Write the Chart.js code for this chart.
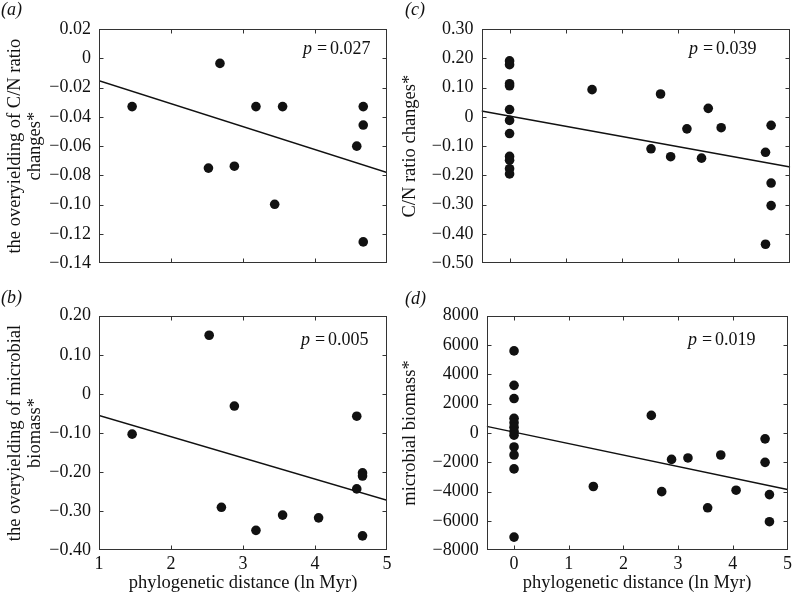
<!DOCTYPE html>
<html><head><meta charset="utf-8">
<script src="https://cdn.jsdelivr.net/npm/chart.js@4/dist/chart.umd.min.js"></script>
<style>
html,body{margin:0;padding:0;background:#fff;}
#wrap{position:relative;width:795px;height:599px;overflow:hidden;}
#wrap canvas{position:absolute;left:0;top:0;}
</style></head>
<body><div id="wrap">
<canvas id="pa" width="795" height="599"></canvas>
<canvas id="pb" width="795" height="599"></canvas>
<canvas id="pc" width="795" height="599"></canvas>
<canvas id="pd" width="795" height="599"></canvas>
</div>
<script>
const FAMILY = '"Liberation Serif","Times New Roman",serif';

// ---- Panel (a): overyielding of C/N ratio changes ----
const aDistance = [1.46, 2.52, 2.68, 2.88, 3.18, 3.44, 3.55, 4.58, 4.67, 4.67, 4.67];
const aOverCN   = [-0.033, -0.075, -0.0035, -0.0737, -0.033, -0.0997, -0.033, -0.060, -0.033, -0.0456, -0.1254];
const aFitX = [1, 5];
const aFitY = [-0.0153, -0.078];
const aYTicks = [0.02, 0, -0.02, -0.04, -0.06, -0.08, -0.10, -0.12, -0.14];

// ---- Panel (b): overyielding of microbial biomass ----
const bDistance = [1.46, 2.53, 2.70, 2.88, 3.18, 3.55, 4.05, 4.58, 4.58, 4.66, 4.66, 4.66];
const bOverMB   = [-0.103, 0.150, -0.290, -0.031, -0.349, -0.310, -0.317, -0.057, -0.243, -0.202, -0.210, -0.363];
const bFitX = [1, 5];
const bFitY = [-0.055, -0.272];
const bYTicks = [0.20, 0.10, 0, -0.10, -0.20, -0.30, -0.40];

const abXTicks = [1, 2, 3, 4, 5];

// ---- Panel (c): C/N ratio changes ----
const cDistance = [0, 0, 0, 0, 0, 0, 0, 0, 0, 0, 0,
                   1.47, 2.52, 2.69, 2.87, 3.16, 3.42, 3.54, 3.77, 4.56, 4.56, 4.66, 4.66, 4.66];
const cCN       = [0.191, 0.178, 0.113, 0.106, 0.025, -0.012, -0.057, -0.135, -0.148, -0.177, -0.195,
                   0.093, -0.109, 0.078, -0.136, -0.041, -0.141, 0.029, -0.037, -0.121, -0.435, -0.029, -0.226, -0.303];
const cFitX = [-0.5, 5];
const cFitY = [0.020, -0.171];
const cYTicks = [0.30, 0.20, 0.10, 0, -0.10, -0.20, -0.30, -0.40, -0.50];

// ---- Panel (d): microbial biomass ----
const dDistance = [0, 0, 0, 0, 0, 0, 0, 0, 0, 0, 0, 0,
                   1.45, 2.51, 2.70, 2.88, 3.18, 3.54, 3.78, 4.06, 4.59, 4.59, 4.67, 4.67];
const dMB       = [5600, 3250, 2350, 1000, 700, 400, 100, -150, -950, -1500, -2450, -7100,
                   -3650, 1200, -4000, -1800, -1700, -5100, -1500, -3900, -400, -2000, -4200, -6050];
const dFitX = [-0.5, 5];
const dFitY = [450, -3850];
const dYTicks = [8000, 6000, 4000, 2000, 0, -2000, -4000, -6000, -8000];

const cdXTicks = [0, 1, 2, 3, 4, 5];

const xTitleText = 'phylogenetic distance (ln Myr)';

function pts(xs, ys) { return xs.map((x, i) => ({x: x, y: ys[i]})); }
function fmt(dec) {
  return v => {
    if (Math.abs(v) < 1e-9) return '0';
    return (v < 0 ? '\u2212' : '') + Math.abs(v).toFixed(dec);
  };
}

function panel(cfg) {
  const W = 795, H = 599;
  const showX = !!cfg.xTitle;
  const bottomEdge = 593;
  const Wy = cfg.area.left - cfg.titleLeft;
  const Hx = showX ? bottomEdge - cfg.area.bottom : 10;
  const padBottom = showX ? H - bottomEdge : H - cfg.area.bottom - 10;

  const extras = {
    id: 'extras_' + cfg.id,
    afterDraw(chart) {
      const ctx = chart.ctx, a = chart.chartArea, xs = chart.scales.x, ys = chart.scales.y;
      ctx.save();
      ctx.strokeStyle = '#333';
      ctx.lineWidth = 1;
      const L = Math.round(a.left) + 0.5, R = Math.round(a.right) - 0.5;
      const T = Math.round(a.top) + 0.5, B = Math.round(a.bottom) - 0.5;
      ctx.strokeRect(L, T, R - L, B - T);
      const tk = 4;
      ctx.beginPath();
      cfg.yTicks.forEach(v => {
        const p = Math.round(ys.getPixelForValue(v)) + 0.5;
        if (p <= T + 1 || p >= B - 1) return;
        ctx.moveTo(L, p); ctx.lineTo(L + tk, p);
        ctx.moveTo(R, p); ctx.lineTo(R - tk, p);
      });
      cfg.xTicks.forEach(v => {
        const p = Math.round(xs.getPixelForValue(v)) + 0.5;
        if (p <= L + 1 || p >= R - 1) return;
        ctx.moveTo(p, B); ctx.lineTo(p, B - tk);
        ctx.moveTo(p, T); ctx.lineTo(p, T + tk);
      });
      ctx.stroke();

      ctx.fillStyle = '#111';
      ctx.textBaseline = 'alphabetic';
      ctx.textAlign = 'left';
      ctx.font = 'italic 18px ' + FAMILY;
      ctx.fillText('(' + cfg.letter + ')', cfg.labelPos[0], cfg.labelPos[1]);
      const px = cfg.pPos[0], py = cfg.pPos[1];
      ctx.font = 'italic 18px ' + FAMILY;
      ctx.fillText('p', px, py);
      ctx.font = '18px ' + FAMILY;
      ctx.fillText('=', px + 14, py);
      ctx.fillText(cfg.pValue, px + 27, py);
      ctx.restore();
    }
  };

  new Chart(document.getElementById(cfg.id), {
    type: 'scatter',
    data: {
      datasets: [
        {type: 'scatter', data: pts(cfg.xs, cfg.ys), pointRadius: 4.8, pointHoverRadius: 4.8,
         backgroundColor: '#111', borderWidth: 0, order: 1},
        {type: 'line', data: pts(cfg.fitX, cfg.fitY), borderColor: '#111', borderWidth: 1.4,
         pointRadius: 0, fill: false, tension: 0, order: 2}
      ]
    },
    options: {
      responsive: false, animation: false, events: [],
      layout: {padding: {left: cfg.titleLeft, top: cfg.area.top, right: W - cfg.area.right, bottom: padBottom}},
      plugins: {legend: {display: false}, tooltip: {enabled: false}},
      scales: {
        x: {
          type: 'linear', position: 'bottom', min: cfg.xMin, max: cfg.xMax,
          grid: {display: false, drawTicks: false, tickLength: 0}, border: {display: false},
          afterBuildTicks: s => { s.ticks = cfg.xTicks.map(v => ({value: v})); },
          afterFit: s => { s.height = Hx; },
          ticks: {display: showX, padding: 3, color: '#111', maxRotation: 0, autoSkip: false,
                  font: {family: FAMILY, size: 18}, callback: v => String(v)},
          title: {display: showX, text: cfg.xTitle || '', color: '#111', padding: 0,
                  font: {family: FAMILY, size: 18.5, lineHeight: '20px'}}
        },
        y: {
          type: 'linear', position: 'left', min: cfg.yMin, max: cfg.yMax,
          grid: {display: false, drawTicks: false, tickLength: 0}, border: {display: false},
          afterBuildTicks: s => { s.ticks = cfg.yTicks.map(v => ({value: v})); },
          afterFit: s => { s.width = Wy; },
          ticks: {padding: 8, color: '#111', autoSkip: false,
                  font: {family: FAMILY, size: 18}, callback: cfg.yFmt},
          title: {display: true, text: cfg.yTitle, color: '#111', padding: 0,
                  font: {family: FAMILY, size: 18.5, lineHeight: '20px'}}
        }
      }
    },
    plugins: [extras]
  });
}

panel({id: 'pa', letter: 'a', xs: aDistance, ys: aOverCN, fitX: aFitX, fitY: aFitY,
  xMin: 1, xMax: 5, xTicks: abXTicks, yMin: -0.14, yMax: 0.02, yTicks: aYTicks, yFmt: fmt(2),
  yTitle: ['the overyielding of C/N ratio', 'changes*'], xTitle: null,
  area: {left: 99, top: 29, right: 387, bottom: 263.3}, titleLeft: 5,
  labelPos: [1, 15], pPos: [303, 54], pValue: '0.027'});

panel({id: 'pb', letter: 'b', xs: bDistance, ys: bOverMB, fitX: bFitX, fitY: bFitY,
  xMin: 1, xMax: 5, xTicks: abXTicks, yMin: -0.40, yMax: 0.20, yTicks: bYTicks, yFmt: fmt(2),
  yTitle: ['the overyielding of microbial', 'biomass*'], xTitle: xTitleText,
  area: {left: 99, top: 315.7, right: 387, bottom: 550.3}, titleLeft: 5,
  labelPos: [1, 303], pPos: [301, 345], pValue: '0.005'});

panel({id: 'pc', letter: 'c', xs: cDistance, ys: cCN, fitX: cFitX, fitY: cFitY,
  xMin: -0.5, xMax: 5, xTicks: cdXTicks, yMin: -0.50, yMax: 0.30, yTicks: cYTicks, yFmt: fmt(2),
  yTitle: 'C/N ratio changes*', xTitle: null,
  area: {left: 481.5, top: 29, right: 791, bottom: 263.3}, titleLeft: 400,
  labelPos: [405, 15], pPos: [689, 54], pValue: '0.039'});

panel({id: 'pd', letter: 'd', xs: dDistance, ys: dMB, fitX: dFitX, fitY: dFitY,
  xMin: -0.5, xMax: 5, xTicks: cdXTicks, yMin: -8000, yMax: 8000, yTicks: dYTicks, yFmt: fmt(0),
  yTitle: 'microbial biomass*', xTitle: xTitleText,
  area: {left: 486.7, top: 315.7, right: 790, bottom: 550.3}, titleLeft: 400,
  labelPos: [405, 303.5], pPos: [688, 345], pValue: '0.019'});
</script>
</body></html>
